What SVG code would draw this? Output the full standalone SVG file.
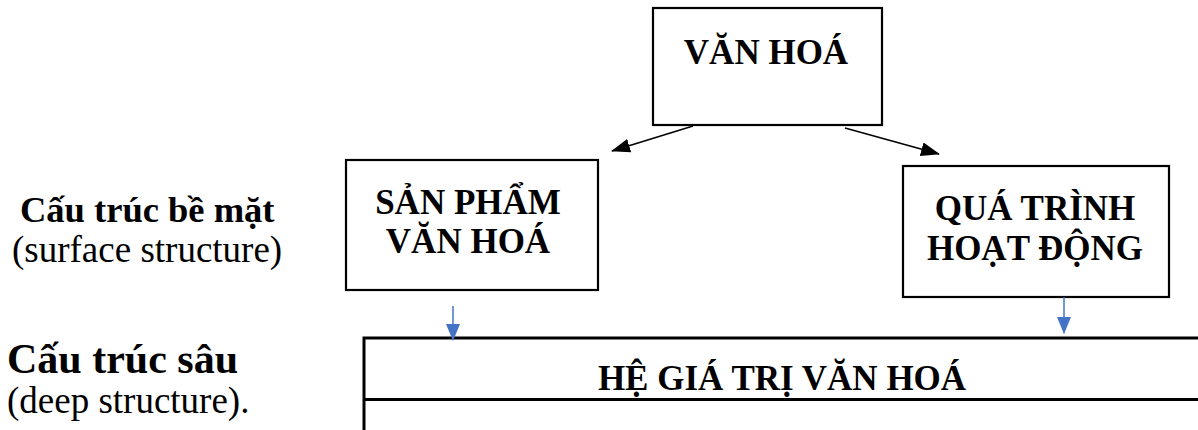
<svg xmlns="http://www.w3.org/2000/svg" width="1198" height="430" viewBox="0 0 1198 430">
<style>
text{font-family:"Liberation Serif","Times New Roman",serif;fill:#000}
.b{font-weight:bold}
.box{fill:#fff;stroke:#000;stroke-width:2.2}
.big{stroke-width:3}
.c{text-anchor:middle;font-weight:bold;font-size:35px}
.blk{stroke:#000;stroke-width:1.6;fill:none}
.blu{stroke:#4472C4;stroke-width:1.5;fill:none}
</style>
<defs>
<marker id="ab" markerUnits="userSpaceOnUse" markerWidth="19" markerHeight="14" refX="18" refY="7" orient="auto"><path d="M0,0 L19,7 L0,14 z" fill="#000"/></marker>
<marker id="au" markerUnits="userSpaceOnUse" markerWidth="17" markerHeight="14" refX="16" refY="7" orient="auto"><path d="M0,0 L17,7 L0,14 z" fill="#4472C4"/></marker>
</defs>
<g id="labels">
<text class="b" x="20" y="222" font-size="36.5">Cấu trúc bề mặt</text>
<text x="12" y="262" font-size="37">(surface structure)</text>
<text class="b" x="7" y="373" font-size="42">Cấu trúc sâu</text>
<text x="7" y="413" font-size="37">(deep structure).</text>
</g>
<g id="van-hoa">
<rect class="box" x="653" y="8" width="229" height="117"/>
<text class="c" x="766" y="64" font-size="40">VĂN HOÁ</text>
</g>
<g id="san-pham">
<rect class="box" x="346" y="160" width="252" height="130"/>
<text class="c" x="468" y="214">SẢN PHẨM</text>
<text class="c" x="468" y="253">VĂN HOÁ</text>
</g>
<g id="qua-trinh">
<rect class="box" x="903" y="166" width="266" height="131"/>
<text class="c" x="1035" y="220">QUÁ TRÌNH</text>
<text class="c" x="1035" y="260">HOẠT ĐỘNG</text>
</g>
<g id="he-gia-tri">
<path class="box big" d="M1200,338 H364 V432 M364,399.5 H1200"/>
<text class="c" x="782" y="390" font-size="36">HỆ GIÁ TRỊ VĂN HOÁ</text>
</g>
<g id="connectors">
<line class="blk" x1="693" y1="126" x2="612" y2="151" marker-end="url(#ab)"/>
<line class="blk" x1="845" y1="128" x2="939" y2="154" marker-end="url(#ab)"/>
<line class="blu" x1="453" y1="306" x2="453" y2="340" marker-end="url(#au)"/>
<line class="blu" x1="1064" y1="297" x2="1064" y2="333" marker-end="url(#au)"/>
</g>
</svg>
